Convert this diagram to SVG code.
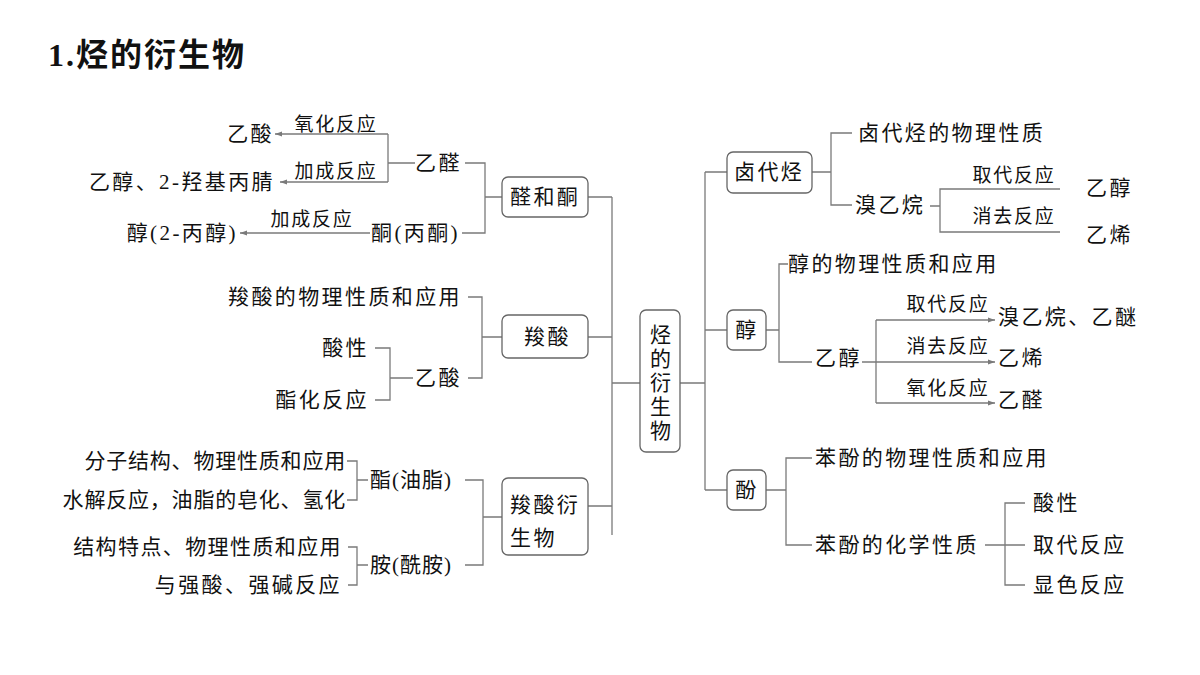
<svg xmlns="http://www.w3.org/2000/svg" width="1200" height="675" viewBox="0 0 1200 675">
<style>
text{font-family:"Liberation Serif","Noto Sans CJK SC",serif;fill:#111;dominant-baseline:central}
.t{font-size:21px;letter-spacing:2.4px}
.s{font-size:19px;letter-spacing:1.8px}
.r{text-anchor:end}
.m{text-anchor:middle}
.box{fill:#fff;stroke:#666;stroke-width:1.3}
#connectors path{fill:none;stroke:#7a7a7a;stroke-width:1.3}
.a{marker-end:url(#arr)}
</style>
<defs>
<marker id="arr" viewBox="0 0 10 10" refX="10" refY="5" markerWidth="7" markerHeight="7" markerUnits="userSpaceOnUse" orient="auto">
<path d="M0,1.5 L10,5 L0,8.5 Z" fill="#7a7a7a"/>
</marker>
</defs>
<rect width="1200" height="675" fill="#fff"/>
<text x="48" y="55" style="font-size:32px;font-weight:bold;letter-spacing:2px">1.烃的衍生物</text>

<g id="connectors">
<path d="M612,197 V535 M588,197 H612 M588,337 H612 M588,506 H612 M612,383 H640"/>
<path d="M705,172 V490 M680,383 H705 M705,172 H727 M705,330 H727 M705,490 H727"/>
<path d="M465,163 H485 V233 H462 M485,197 H502"/>
<path d="M415,163 H388 M388,134 V182"/>
<path class="a" d="M388,134 H275"/>
<path class="a" d="M388,182 H280"/>
<path class="a" d="M370,233 H240"/>
<path d="M468,297 H482 V378 H468 M482,337 H502"/>
<path d="M413,378 H390 M375,348 H390 V400 H375"/>
<path d="M465,480 H483 V565 H465 M483,517 H502"/>
<path d="M368,480 H357 M347,461 H357 V500 H347"/>
<path d="M368,565 H357 M348,547 H357 V585 H348"/>
<path d="M812,172 H831 M852,133 H831 V205 H852"/>
<path d="M930,206 H940 M1060,189 H940 V232 H1060"/>
<path d="M766,330 H779 M788,264 H779 V362 H812"/>
<path d="M876,320 V403"/>
<path class="a" d="M862,362 H995"/>
<path class="a" d="M876,320 H995"/>
<path class="a" d="M876,403 H995"/>
<path d="M766,490 H786 M812,458 H786 V545 H812"/>
<path d="M985,545 H1025 M1025,503 H1005 V585 H1025"/>
</g>

<g id="center"><rect class="box" x="640" y="310" width="40" height="142" rx="6"/>
<text class="t" x="650" y="335">烃</text><text class="t" x="650" y="359">的</text><text class="t" x="650" y="383">衍</text><text class="t" x="650" y="407">生</text><text class="t" x="650" y="431">物</text></g>

<g id="n-quantong"><rect class="box" x="502" y="177" width="86" height="40" rx="6"/><text class="t" x="510" y="197">醛和酮</text></g>
<g id="n-yiquan"><text class="t" x="415" y="163">乙醛</text></g>
<g id="n-yisuan1"><text class="t r" x="274" y="134">乙酸</text></g>
<g id="n-yichun1"><text class="t r" x="275" y="182">乙醇、2-羟基丙腈</text></g>
<g id="n-tong"><text class="t" x="371" y="233">酮(丙酮)</text></g>
<g id="n-bingchun"><text class="t r" x="238" y="233">醇(2-丙醇)</text></g>
<text class="s m" x="336" y="124">氧化反应</text>
<text class="s m" x="336" y="171">加成反应</text>
<text class="s m" x="312" y="219">加成反应</text>

<g id="n-suosuan"><rect class="box" x="502" y="315" width="86" height="43" rx="6"/><text class="t" x="524" y="337">羧酸</text></g>
<g id="n-ss-wl"><text class="t r" x="462" y="297">羧酸的物理性质和应用</text></g>
<g id="n-yisuan2"><text class="t" x="415" y="378">乙酸</text></g>
<g id="n-suanxing1"><text class="t r" x="369" y="348">酸性</text></g>
<g id="n-zhihua"><text class="t r" x="369" y="400">酯化反应</text></g>

<g id="n-yanshengwu"><rect class="box" x="502" y="478" width="86" height="77" rx="6"/><text class="t" x="510" y="505">羧酸衍</text><text class="t" x="510" y="538">生物</text></g>
<g id="n-zhi"><text class="t" x="370" y="480" style="letter-spacing:1px">酯(油脂)</text></g>
<g id="n-zhi1"><text class="t r" x="346" y="461" style="letter-spacing:0.8px">分子结构、物理性质和应用</text></g>
<g id="n-zhi2"><text class="t r" x="346" y="500" style="letter-spacing:0.8px">水解反应，油脂的皂化、氢化</text></g>
<g id="n-an"><text class="t" x="370" y="565" style="letter-spacing:1px">胺(酰胺)</text></g>
<g id="n-an1"><text class="t r" x="342" y="547" style="letter-spacing:1.4px">结构特点、物理性质和应用</text></g>
<g id="n-an2"><text class="t r" x="342" y="585">与强酸、强碱反应</text></g>

<g id="n-ludaiting"><rect class="box" x="727" y="152" width="85" height="41" rx="6"/><text class="t" x="734" y="172">卤代烃</text></g>
<g id="n-ld-wl"><text class="t" x="858" y="133">卤代烃的物理性质</text></g>
<g id="n-xiuyiwan"><text class="t" x="855" y="205">溴乙烷</text></g>
<text class="s m" x="1014" y="175">取代反应</text>
<text class="s m" x="1014" y="216">消去反应</text>
<g id="n-yichun2"><text class="t" x="1086" y="188">乙醇</text></g>
<g id="n-yixi1"><text class="t" x="1086" y="235">乙烯</text></g>

<g id="n-chun"><rect class="box" x="727" y="310" width="39" height="40" rx="6"/><text class="t m" x="747" y="330">醇</text></g>
<g id="n-chun-wl"><text class="t" x="788" y="264">醇的物理性质和应用</text></g>
<g id="n-yichun3"><text class="t" x="815" y="358">乙醇</text></g>
<text class="s m" x="948" y="304">取代反应</text>
<text class="s m" x="948" y="346">消去反应</text>
<text class="s m" x="948" y="388">氧化反应</text>
<g id="n-xiu-mi"><text class="t" x="998" y="317">溴乙烷、乙醚</text></g>
<g id="n-yixi2"><text class="t" x="998" y="358">乙烯</text></g>
<g id="n-yiquan2"><text class="t" x="998" y="400">乙醛</text></g>

<g id="n-fen"><rect class="box" x="727" y="470" width="39" height="40" rx="6"/><text class="t m" x="747" y="490">酚</text></g>
<g id="n-fen-wl"><text class="t" x="815" y="458">苯酚的物理性质和应用</text></g>
<g id="n-fen-hx"><text class="t" x="815" y="545">苯酚的化学性质</text></g>
<g id="n-suanxing2"><text class="t" x="1033" y="503">酸性</text></g>
<g id="n-qudai"><text class="t" x="1033" y="545">取代反应</text></g>
<g id="n-xianse"><text class="t" x="1033" y="585">显色反应</text></g>
</svg>
